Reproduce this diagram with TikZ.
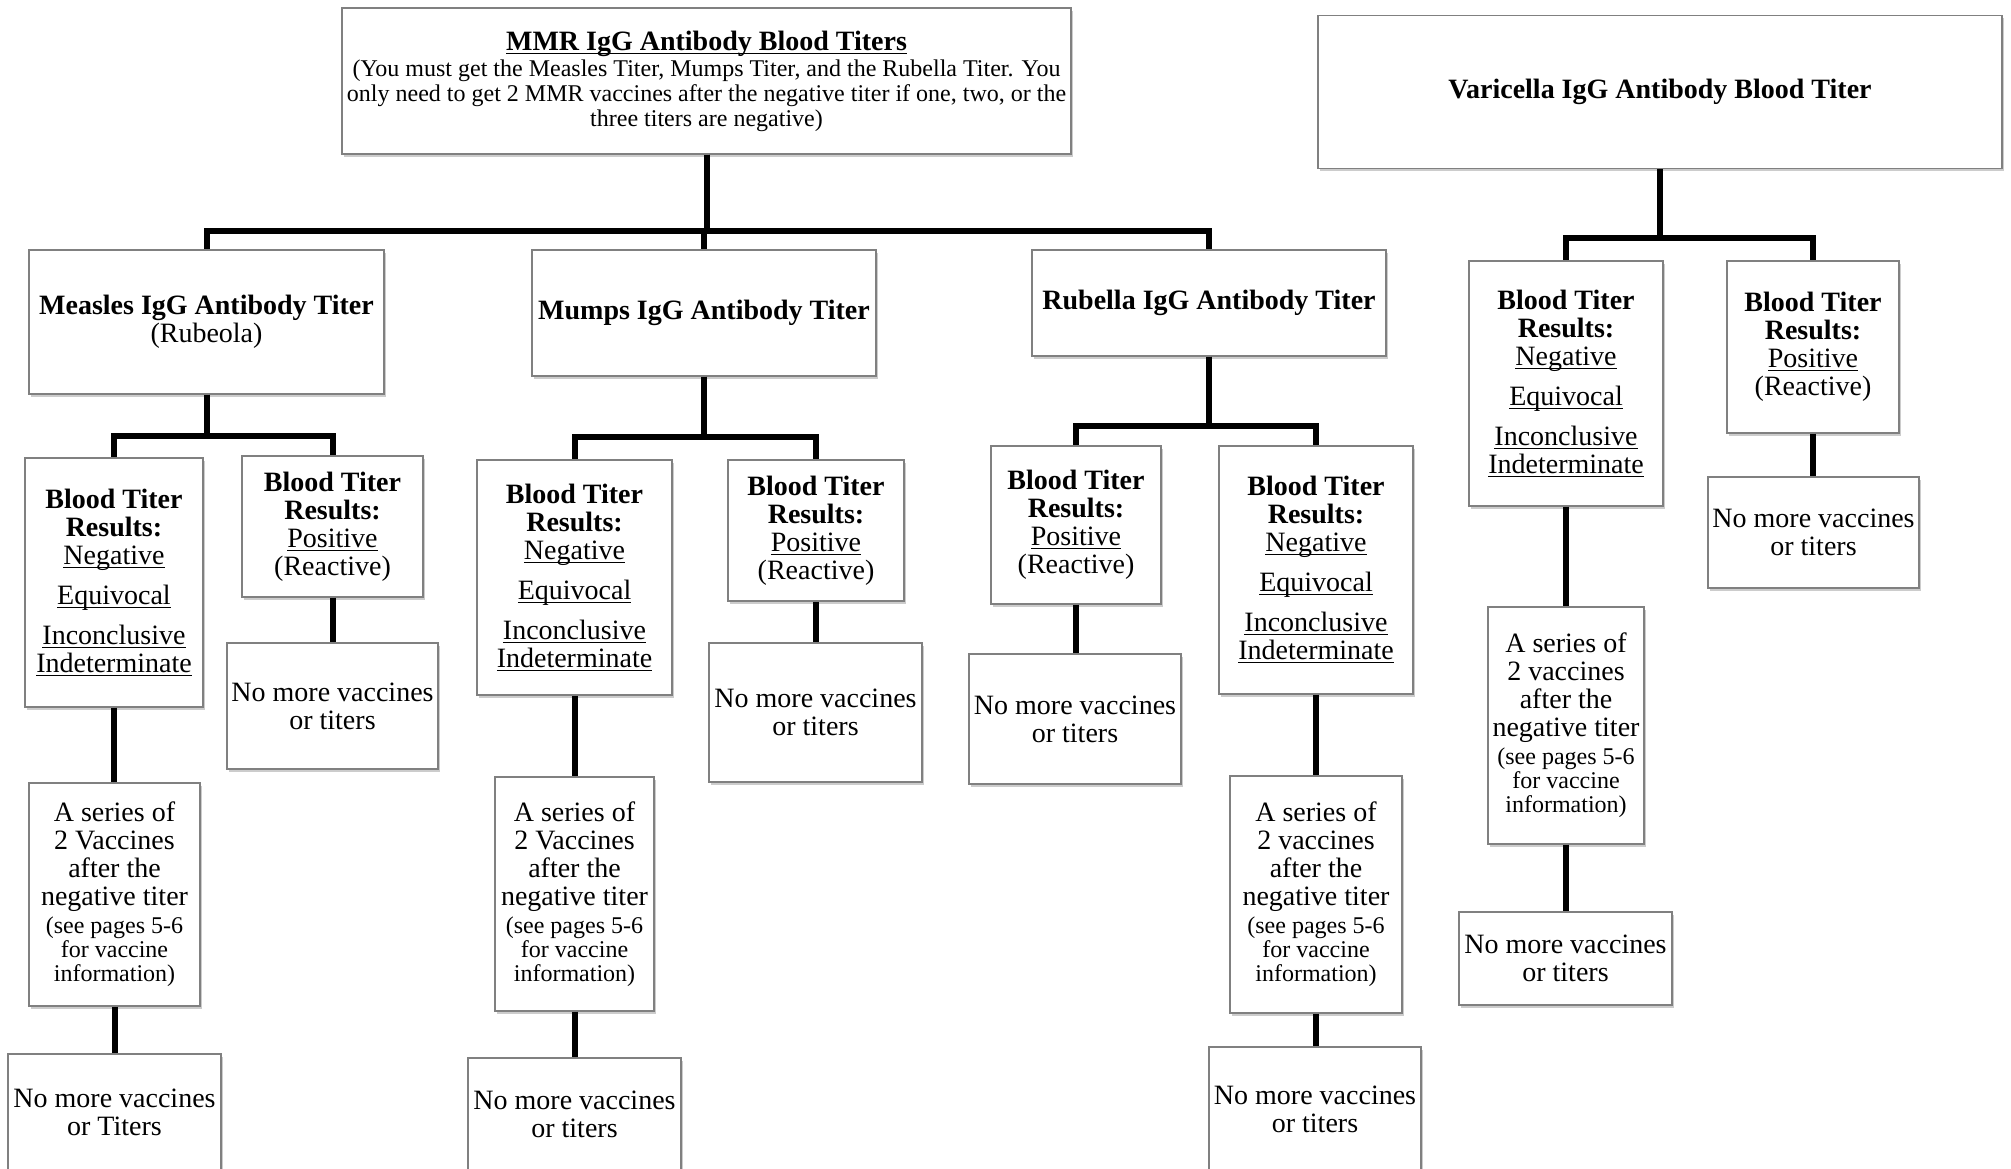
\documentclass[tikz,border=0pt]{standalone}
\usepackage{fontspec}
\setmainfont{Liberation Serif}
\usetikzlibrary{shadows}
\definecolor{edge}{gray}{0.5}
\newcommand{\sm}{\fontsize{12}{12}\selectfont}
\newcommand{\undl}[1]{\underline{\smash{#1}}\vphantom{#1}}

\begin{document}
\begin{tikzpicture}[x=0.5pt,y=-0.5pt,
box/.style={draw=edge,line width=0.6pt,fill=white,align=center,inner sep=1pt,
font=\fontsize{14}{14}\selectfont,
drop shadow={shadow xshift=0.9pt,shadow yshift=-1.3pt,opacity=0.4}},
link/.style={line width=3pt}]
\useasboundingbox (0,0) rectangle (2011,1168);
% top row
\node[box,minimum width=364.5pt,minimum height=73pt] (mmr) at (706.5,81)
{\undl{\textbf{MMR IgG Antibody Blood Titers}}\\[-1pt]
{\sm (You must get the Measles Titer, Mumps Titer, and the Rubella Titer. You}\\[-1.5pt]
{\sm only need to get 2 MMR vaccines after the negative titer if one, two, or the}\\[-1.5pt]
{\sm three titers are negative)}};
\node[box,minimum width=342pt,minimum height=76.5pt] (var) at (1660,92)
{\textbf{Varicella IgG Antibody Blood Titer}};
\node[box,minimum width=177.5pt,minimum height=72pt] (measles) at (206.5,322)
{\textbf{Measles IgG Antibody Titer}\\(Rubeola)};
\node[box,minimum width=172pt,minimum height=63pt] (mumps) at (704,313)
{\textbf{Mumps IgG Antibody Titer}};
\node[box,minimum width=177pt,minimum height=53pt] (rubella) at (1209,303)
{\textbf{Rubella IgG Antibody Titer}};
% measles
\node[box,minimum width=89pt,minimum height=124.5pt] (measNeg) at (114,582.5)
{\textbf{Blood Titer}\\\textbf{Results:}\\\undl{Negative}\\[6pt]\undl{Equivocal}\\[6pt]\undl{Inconclusive}\\\undl{Indeterminate}};
\node[box,minimum width=90.5pt,minimum height=70.5pt] (measPos) at (332.5,526.5)
{\textbf{Blood Titer}\\\textbf{Results:}\\\undl{Positive}\\(Reactive)};
\node[box,minimum width=105.5pt,minimum height=63pt] (measPosEnd) at (332.5,706)
{No more vaccines\\or titers};
\node[box,minimum width=85.5pt,minimum height=111.5pt] (measSer) at (114.5,894.5)
{A series of\\2 Vaccines\\after the\\negative titer\\{\sm (see pages 5-6}\\[-2pt]{\sm for vaccine}\\[-2pt]{\sm information)}};
\node[box,minimum width=106.5pt,minimum height=58.5pt] (measEnd) at (114.5,1112.5)
{No more vaccines\\or Titers};
% mumps
\node[box,minimum width=97.5pt,minimum height=117.5pt] (mumpNeg) at (574.5,577.5)
{\textbf{Blood Titer}\\\textbf{Results:}\\\undl{Negative}\\[6pt]\undl{Equivocal}\\[6pt]\undl{Inconclusive}\\\undl{Indeterminate}};
\node[box,minimum width=88pt,minimum height=70.5pt] (mumpPos) at (816,530.5)
{\textbf{Blood Titer}\\\textbf{Results:}\\\undl{Positive}\\(Reactive)};
\node[box,minimum width=106.5pt,minimum height=69.5pt] (mumpPosEnd) at (815.5,712.5)
{No more vaccines\\or titers};
\node[box,minimum width=79.5pt,minimum height=117pt] (mumpSer) at (574.5,894)
{A series of\\2 Vaccines\\after the\\negative titer\\{\sm (see pages 5-6}\\[-2pt]{\sm for vaccine}\\[-2pt]{\sm information)}};
\node[box,minimum width=106.5pt,minimum height=56.5pt] (mumpEnd) at (574.5,1114.5)
{No more vaccines\\or titers};
% rubella
\node[box,minimum width=85pt,minimum height=79pt] (rubPos) at (1076,525)
{\textbf{Blood Titer}\\\textbf{Results:}\\\undl{Positive}\\(Reactive)};
\node[box,minimum width=106pt,minimum height=65pt] (rubPosEnd) at (1075,719)
{No more vaccines\\or titers};
\node[box,minimum width=97pt,minimum height=124pt] (rubNeg) at (1316,570)
{\textbf{Blood Titer}\\\textbf{Results:}\\\undl{Negative}\\[6pt]\undl{Equivocal}\\[6pt]\undl{Inconclusive}\\\undl{Indeterminate}};
\node[box,minimum width=86pt,minimum height=118.5pt] (rubSer) at (1316,894.5)
{A series of\\2 vaccines\\after the\\negative titer\\{\sm (see pages 5-6}\\[-2pt]{\sm for vaccine}\\[-2pt]{\sm information)}};
\node[box,minimum width=106pt,minimum height=62.5pt] (rubEnd) at (1315,1109.5)
{No more vaccines\\or titers};
% varicella
\node[box,minimum width=97pt,minimum height=122.5pt] (varNeg) at (1566,383.5)
{\textbf{Blood Titer}\\\textbf{Results:}\\\undl{Negative}\\[6pt]\undl{Equivocal}\\[6pt]\undl{Inconclusive}\\\undl{Indeterminate}};
\node[box,minimum width=86pt,minimum height=86pt] (varPos) at (1813,347)
{\textbf{Blood Titer}\\\textbf{Results:}\\\undl{Positive}\\(Reactive)};
\node[box,minimum width=105.5pt,minimum height=55.5pt] (varPosEnd) at (1813.5,532.5)
{No more vaccines\\or titers};
\node[box,minimum width=78pt,minimum height=118.5pt] (varSer) at (1566,725.5)
{A series of\\2 vaccines\\after the\\negative titer\\{\sm (see pages 5-6}\\[-2pt]{\sm for vaccine}\\[-2pt]{\sm information)}};
\node[box,minimum width=106.5pt,minimum height=46.5pt] (varEnd) at (1565.5,958.5)
{No more vaccines\\or titers};
% connectors
\foreach \p/\d/\c in {mmr/76/measles,mmr/76/mumps,mmr/76/rubella,
  measles/41/measNeg,measles/41/measPos,mumps/60/mumpNeg,mumps/60/mumpPos,
  rubella/69/rubPos,rubella/69/rubNeg,var/69/varNeg,var/69/varPos}
  \draw[link] (\p.south) -- ++(0,\d) -| (\c.north);
\foreach \a/\b in {measNeg/measSer,measSer/measEnd,measPos/measPosEnd,
  mumpNeg/mumpSer,mumpSer/mumpEnd,mumpPos/mumpPosEnd,
  rubPos/rubPosEnd,rubNeg/rubSer,rubSer/rubEnd,
  varNeg/varSer,varSer/varEnd,varPos/varPosEnd}
  \draw[link] (\a.south) -- (\a.south |- \b.north);
\end{tikzpicture}
\end{document}
